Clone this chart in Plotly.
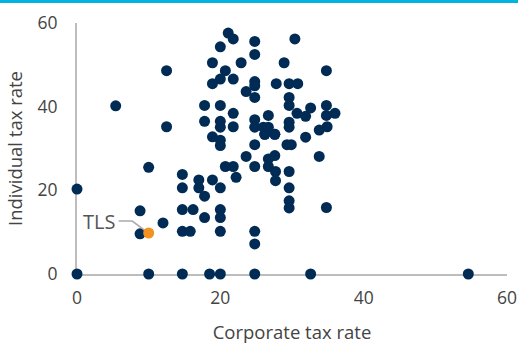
import plotly.graph_objects as go

# Corporate tax rate (x) and individual tax rate (y) per country
corporate = [
    0, 0, 5.4, 12.5, 12.5, 10, 8.8, 8.8, 12, 10,
    14.7, 14.7, 14.7, 16.2, 14.7, 15.8, 14.7, 17, 17, 17.8,
    17.8, 18.9, 20, 20, 20, 20, 18.5, 20, 24.8, 24.8,
    24.8, 32.6, 54.6, 20.7, 21.8, 22.2, 24.8, 23.6, 24.8, 20,
    20, 18.9, 17.8, 20, 20, 21.8, 17.8, 20, 21.8, 24.8,
    24.8, 26.7, 26.0, 26.7, 26.2, 27.6, 26.7, 27.6, 26.7, 27.7,
    27.7, 29.3, 29.9, 29.6, 29.6, 29.6, 29.6, 33.8, 34.8, 31.9,
    29.6, 29.6, 33.8, 34.9, 30.7, 31.9, 34.8, 36.0, 29.6, 32.6,
    34.8, 29.6, 27.8, 29.6, 30.8, 28.9, 34.8, 30.4, 21.1, 21.8,
    24.8, 20, 24.8, 18.9, 22.9, 20.7, 20, 18.9, 21.8, 24.8,
    24.8, 23.6, 24.8, 26.2, 27.6,
]
individual = [
    20.3, 0, 40.2, 48.6, 35.2, 25.5, 15.1, 9.6, 12.2, 0,
    23.8, 20.6, 15.4, 15.4, 10.2, 10.2, 0, 22.5, 20.6, 18.6,
    13.5, 22.5, 20.6, 15.4, 13.5, 10.2, 0, 0, 0, 10.2,
    7.2, 0, 0, 25.7, 25.7, 23.1, 25.7, 28.1, 30.9, 30.7,
    32.0, 32.8, 36.5, 36.5, 35.1, 35.2, 40.3, 40.3, 38.4, 36.9,
    35.1, 37.9, 35.1, 35.1, 33.4, 33.4, 27.5, 28.3, 25.7, 24.5,
    22.3, 30.9, 30.9, 24.5, 20.6, 17.5, 15.8, 28.1, 15.9, 32.7,
    36.3, 35.1, 34.4, 35.2, 38.4, 37.7, 37.9, 38.4, 40.3, 39.7,
    40.3, 42.2, 45.5, 45.5, 45.5, 50.5, 48.6, 56.2, 57.6, 56.2,
    55.6, 54.3, 52.5, 50.5, 50.5, 48.6, 46.6, 45.5, 46.6, 46.0,
    45.0, 43.6, 42.2, 33.4, 33.4,
]

tls_label = "TLS"
tls_corporate = [10]
tls_individual = [9.8]

x_ticks = [0, 20, 40, 60]
y_ticks = [0, 20, 40, 60]

navy = "#002b55"
orange = "#f3921f"
grey_line = "#bdbdbd"
text_col = "#444444"
font_family = "Open Sans, Noto Sans, sans-serif"

fig = go.Figure()

fig.add_trace(go.Scatter(
    x=corporate, y=individual, mode="markers",
    marker=dict(size=11, color=navy, line=dict(width=0)),
    cliponaxis=False, showlegend=False, hoverinfo="x+y",
))

# leader line for the TLS label (offsets relative to the TLS point)
tx, ty = tls_corporate[0], tls_individual[0]
fig.add_trace(go.Scatter(
    x=[tx - 4.2, tx - 2.3, tx - 0.2],
    y=[ty + 2.85, ty + 2.85, ty + 0.2],
    mode="lines", line=dict(color="#aaaaaa", width=1.5),
    cliponaxis=False, showlegend=False, hoverinfo="skip",
))

fig.add_trace(go.Scatter(
    x=tls_corporate, y=tls_individual, mode="markers",
    marker=dict(size=11, color=orange, line=dict(width=0)),
    cliponaxis=False, showlegend=False, hoverinfo="x+y",
))

fig.add_annotation(
    x=tx - 4.4, y=ty + 2.85, text=tls_label, showarrow=False,
    xanchor="right", yanchor="middle",
    font=dict(size=20, color="#555555", family=font_family),
)

ml, mr, mt, mb = 77, 11, 23, 70
W, H = 518, 344
pw, ph = W - ml - mr, H - mt - mb

# thin cyan band across the very top of the page
fig.add_shape(
    type="rect", xref="paper", yref="paper",
    x0=-ml / pw, x1=1 + mr / pw, y0=1 + (mt - 3) / ph, y1=1 + (mt + 1) / ph,
    fillcolor="#00b4e0", line=dict(width=0), layer="above",
)

fig.update_layout(
    width=W, height=H,
    margin=dict(l=ml, r=mr, t=mt, b=mb, autoexpand=False),
    paper_bgcolor="white", plot_bgcolor="white",
    font=dict(family=font_family, color=text_col, size=17),
    xaxis=dict(
        range=[0, 60], tickvals=x_ticks, ticktext=[str(v) for v in x_ticks],
        showgrid=False, zeroline=False, showline=True, automargin=False,
        linecolor=grey_line, linewidth=2, layer="below traces",
        ticks="outside", ticklen=7, tickcolor="rgba(0,0,0,0)",
        tickfont=dict(size=17.5, color=text_col),
        title=dict(text="Corporate tax rate", font=dict(size=18.5, color=text_col), standoff=20),
        fixedrange=True,
    ),
    yaxis=dict(
        range=[0, 60], tickvals=y_ticks, ticktext=[str(v) for v in y_ticks],
        showgrid=False, zeroline=False, showline=True, automargin=False,
        linecolor=grey_line, linewidth=2, layer="below traces",
        ticks="outside", ticklen=14, tickcolor="rgba(0,0,0,0)",
        tickfont=dict(size=17.5, color=text_col),
        title=dict(text="Individual tax rate", font=dict(size=18.5, color=text_col), standoff=10),
        fixedrange=True,
    ),
)

fig.write_html(
    "out.html",
    config={"displayModeBar": False},
    post_script="document.body.style.margin='0';document.body.style.overflow='hidden';",
)
